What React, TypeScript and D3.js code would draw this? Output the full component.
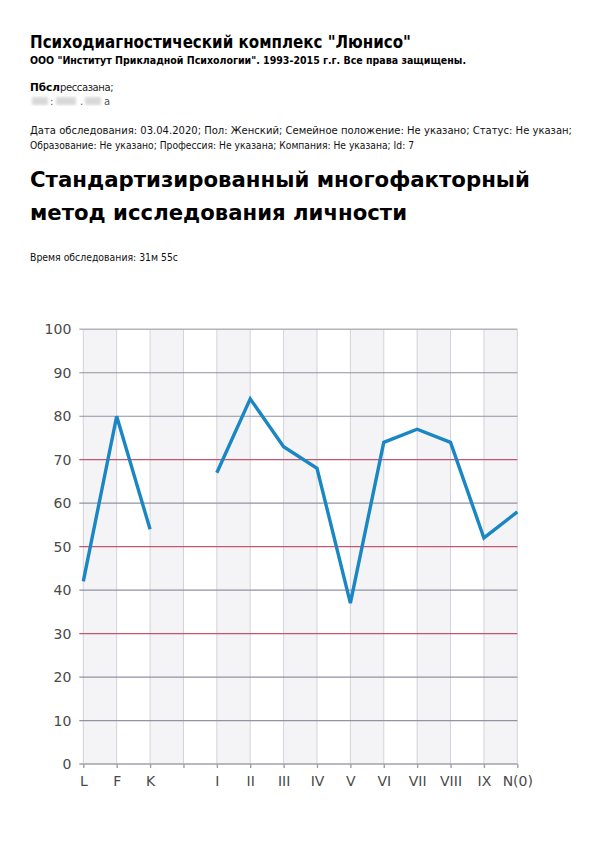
import { useEffect, useRef } from 'react'
import { axisBottom, axisLeft, line, scaleLinear, scalePoint, select } from 'd3'

const categories = ['L', 'F', 'K', '', 'I', 'II', 'III', 'IV', 'V', 'VI', 'VII', 'VIII', 'IX', 'N(0)']
const scores: (number | null)[] = [42, 80, 54, null, 67, 84, 73, 68, 37, 74, 77, 74, 52, 58]
const yTicks = [0, 10, 20, 30, 40, 50, 60, 70, 80, 90, 100]
const redLines = [30, 50, 70]

const dims = {
  width: 600,
  height: 849,
  left: 83.3,
  right: 517.3,
  top: 329.3,
  bottom: 764,
}

const font = 'Tahoma, "DejaVu Sans", sans-serif'

const App = () => {
  const ref = useRef<SVGGElement | null>(null)

  const x = scalePoint<string>().domain(categories).range([dims.left, dims.right])
  const y = scaleLinear().domain([0, 100]).range([dims.bottom, dims.top])

  useEffect(() => {
    const g = select(ref.current)
    g.selectAll('*').remove()

    // stripes between categories
    const stripes = categories.slice(0, -1).map((c, i) => ({ c, i })).filter(d => d.i % 2 === 0)
    g.append('g')
      .selectAll('rect')
      .data(stripes)
      .enter()
      .append('rect')
      .attr('x', d => x(categories[d.i])!)
      .attr('width', d => x(categories[d.i + 1])! - x(categories[d.i])!)
      .attr('y', y(100))
      .attr('height', y(0) - y(100))
      .attr('fill', '#f4f3f5')

    // vertical grid
    g.append('g')
      .selectAll('line')
      .data(categories)
      .enter()
      .append('line')
      .attr('x1', d => x(d)!)
      .attr('x2', d => x(d)!)
      .attr('y1', y(100))
      .attr('y2', y(0))
      .attr('stroke', '#d3d3da')
      .attr('stroke-width', 1)

    // horizontal grid
    g.append('g')
      .selectAll('line')
      .data(yTicks.filter(t => t > 0))
      .enter()
      .append('line')
      .attr('x1', dims.left - 4)
      .attr('x2', dims.right)
      .attr('y1', d => y(d))
      .attr('y2', d => y(d))
      .attr('stroke', d => (redLines.includes(d) ? '#c4566f' : d === 100 ? '#b4b4b8' : '#8f93a3'))
      .attr('stroke-width', d => (d === 100 ? 1.6 : 1.2))

    // y axis labels
    const yAxis = g.append('g')
      .attr('transform', `translate(${dims.left - 4}, 0)`)
      .call(axisLeft(y).tickValues(yTicks).tickSize(0).tickPadding(8))
    yAxis.select('.domain').remove()
    yAxis.selectAll('text')
      .attr('font-family', font)
      .attr('font-size', 14)
      .attr('fill', '#4a4a4a')

    // x axis
    const xAxis = g.append('g')
      .attr('transform', `translate(0, ${y(0)})`)
      .call(axisBottom(x).tickSize(4).tickPadding(8))
    xAxis.select('.domain')
      .attr('d', `M${dims.left - 4},0H${dims.right}`)
      .attr('stroke', '#a0a0a8')
      .attr('stroke-width', 1.6)
    xAxis.selectAll('.tick line').attr('stroke', '#a0a0a8').attr('stroke-width', 1.4)
    xAxis.selectAll('text')
      .attr('font-family', font)
      .attr('font-size', 14)
      .attr('fill', '#4a4a4a')

    // profile line
    const pts = categories.map((c, i) => ({ c, v: scores[i] }))
    const path = line<{ c: string; v: number | null }>()
      .defined(d => d.v !== null)
      .x(d => x(d.c)!)
      .y(d => y(d.v as number))
    g.append('path')
      .attr('d', path(pts))
      .attr('fill', 'none')
      .attr('stroke', '#1a86c3')
      .attr('stroke-width', 3.4)
      .attr('stroke-linejoin', 'miter')
  }, [])

  return (
    <svg
      width={dims.width}
      height={dims.height}
      style={{ position: 'absolute', left: 0, top: 0, background: '#fff' }}
    >
      <defs>
        <filter id="blur">
          <feGaussianBlur stdDeviation="1.8" />
        </filter>
      </defs>
      <g fontFamily={font} fill="#000">
        <text x={30} y={48} fontSize={18} fontWeight="bold" textLength={381} lengthAdjust="spacingAndGlyphs">
          Психодиагностический комплекс "Люнисо"
        </text>
        <text x={30} y={64} fontSize={10.5} fontWeight="bold" textLength={436} lengthAdjust="spacingAndGlyphs">
          ООО "Институт Прикладной Психологии". 1993-2015 г.г. Все права защищены.
        </text>
        <text x={30} y={91} fontSize={10}>
          <tspan fontWeight="bold" fontSize={10.5}>Пбсл</tspan>
          <tspan fill="#222" letterSpacing={-0.4}>рессазана;</tspan>
        </text>
        <g filter="url(#blur)" fill="#d8d8d8">
          <rect x={32} y={97} width={16} height={8} />
          <rect x={56} y={97} width={20} height={8} />
          <rect x={85} y={97} width={16} height={8} />
        </g>
        <text x={50} y={105} fontSize={10} fill="#555">:</text>
        <text x={80} y={105} fontSize={10} fill="#555">.</text>
        <text x={104} y={105} fontSize={10} fill="#555">а</text>
        <text x={30} y={134} fontSize={10.5} textLength={542} lengthAdjust="spacingAndGlyphs" fill="#111">
          Дата обследования: 03.04.2020; Пол: Женский; Семейное положение: Не указано; Статус: Не указан;
        </text>
        <text x={30} y={149} fontSize={10.5} textLength={384} lengthAdjust="spacingAndGlyphs" fill="#111">
          Образование: Не указано; Профессия: Не указана; Компания: Не указана; Id: 7
        </text>
        <text x={30} y={187} fontSize={22} fontWeight="bold" textLength={500} lengthAdjust="spacingAndGlyphs">
          Стандартизированный многофакторный
        </text>
        <text x={30} y={220} fontSize={22} fontWeight="bold" textLength={377} lengthAdjust="spacingAndGlyphs">
          метод исследования личности
        </text>
        <text x={30} y={261} fontSize={10} textLength={148} lengthAdjust="spacingAndGlyphs" fill="#111">
          Время обследования: 31м 55с
        </text>
      </g>
      <g ref={ref} />
    </svg>
  )
}

export default App
